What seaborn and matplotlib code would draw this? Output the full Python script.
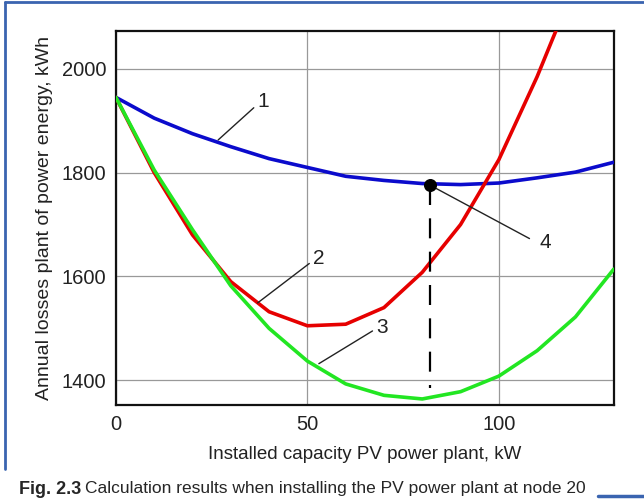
import matplotlib
matplotlib.use("Agg")
import matplotlib.pyplot as plt
import seaborn as sns
import pandas as pd
from matplotlib.lines import Line2D

# Installed capacity, kW
capacity = [0, 10, 20, 30, 40, 50, 60, 70, 80, 90, 100, 110, 120, 130]
# Curve 1 (blue)
losses_1 = [1945, 1905, 1875, 1850, 1827, 1810, 1793, 1785, 1779, 1777, 1780, 1790, 1801, 1820]
# Curve 2 (red)
losses_2 = [1945, 1800, 1680, 1590, 1532, 1505, 1508, 1540, 1608, 1700, 1825, 1985, 2165, 2350]
# Curve 3 (green)
losses_3 = [1945, 1805, 1690, 1582, 1500, 1437, 1393, 1371, 1364, 1378, 1408, 1457, 1522, 1614]

opt_x, opt_y = 82, 1776
x_ticks = [0, 50, 100]
y_ticks = [1400, 1600, 1800, 2000]

df = pd.DataFrame({"cap": capacity * 3,
                   "loss": losses_1 + losses_2 + losses_3,
                   "curve": ["1"] * 14 + ["2"] * 14 + ["3"] * 14})

sns.set_style("white")
plt.rcParams["font.family"] = ["Liberation Sans", "DejaVu Sans"]

fig = plt.figure(figsize=(6.44, 4.99), dpi=100)
ax = fig.add_axes([0.180, 0.188, 0.773, 0.750])

sns.lineplot(data=df, x="cap", y="loss", hue="curve",
             palette={"1": "#0b0bcc", "2": "#e60000", "3": "#22e622"},
             linewidth=2.6, legend=False, ax=ax, zorder=3)

ax.set_xlim(0, 130)
ax.set_ylim(1352, 2073)
ax.set_xticks(x_ticks)
ax.set_yticks(y_ticks)
ax.grid(True, color="#999999", linewidth=0.9)
ax.tick_params(length=0, labelsize=14.5, pad=7, labelcolor="#222222")
for s in ax.spines.values():
    s.set_color("#111111")
    s.set_linewidth(1.6)

ax.set_xlabel("Installed capacity PV power plant, kW", fontsize=13.5, labelpad=9,
              color="#222222")
ax.set_ylabel("Annual losses plant of power energy, kWh", fontsize=14, labelpad=6,
              color="#222222")

# optimum point and dashed drop line
ax.plot([opt_x, opt_x], [opt_y, 1385], color="black", linewidth=1.6,
        dashes=(9, 6), zorder=4)
ax.scatter([opt_x], [opt_y], s=70, color="black", zorder=5)

# leader lines with labels
leaders = [((26.7, 1863), (36, 1925), "1", (37, 1937)),
           ((37, 1549), (50.5, 1625), "2", (51.5, 1634)),
           ((53, 1432), (67, 1495), "3", (68, 1502)),
           ((opt_x, opt_y), (108, 1673), "4", (110.5, 1665))]
for (x0, y0), (x1, y1), lab, (tx, ty) in leaders:
    ax.plot([x0, x1], [y0, y1], color="#222222", linewidth=1.0, zorder=4)
    ax.text(tx, ty, lab, fontsize=15, ha="left", va="center", zorder=6,
            color="#222222")

# page frame and caption
fig.add_artist(Line2D([0.008, 0.008], [0.06, 0.996], color="#3a64b0", linewidth=2))
fig.add_artist(Line2D([0.008, 1.0], [0.996, 0.996], color="#3a64b0", linewidth=2))
fig.add_artist(Line2D([0.928, 1.0], [0.006, 0.006], color="#3a64b0", linewidth=2.5))
fig.text(0.03, 0.036, "Fig. 2.3", fontsize=13, fontweight="bold", va="top", ha="left")
fig.text(0.132, 0.036, "Calculation results when installing the PV power plant at node 20",
         fontsize=12.5, va="top", ha="left")

fig.savefig("out.png", dpi=100)
